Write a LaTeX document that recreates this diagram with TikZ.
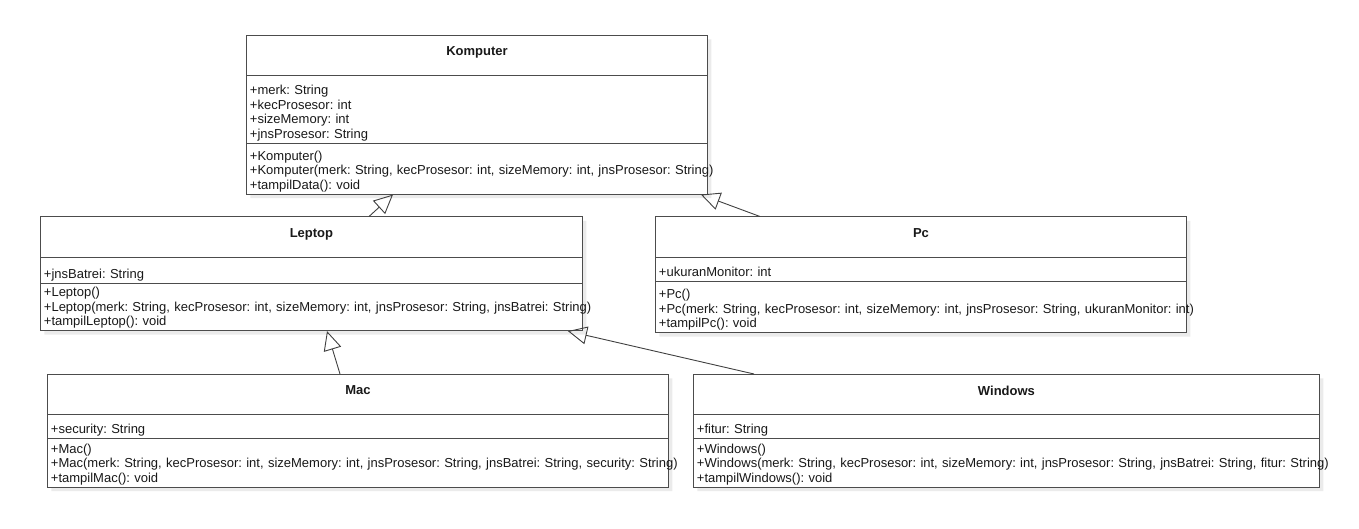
\documentclass[tikz,border=0pt]{standalone}
\usepackage{fontspec}
\setmainfont{Liberation Sans}
\usetikzlibrary{shapes.multipart,arrows.meta,shadows}

\frenchspacing
\newcommand{\umltitle}[2]{\vbox to #1{\vskip 11pt\hbox to\hsize{\hfil\textbf{#2}\hfil}\vfill}}
\newcommand{\umlpart}[2]{\vbox to #1{\vfill #2\kern0pt}}
\newcommand{\umlline}[1]{\hbox{\strut #1}}

\tikzset{
  umlclass/.style={rectangle split, rectangle split parts=3, anchor=north west,
    draw=black!70, line width=0.9pt, fill=white, inner xsep=3.5pt, inner ysep=0pt,
    font=\fontsize{13}{14.5}\selectfont\frenchspacing, text=black!90,
    drop shadow={shadow xshift=4pt, shadow yshift=-4pt, fill=black!8, opacity=1}},
  inherits/.style={draw=black!75, line width=0.9pt, -{Triangle[open, length=19pt, width=18pt]}}
}

\begin{document}
\begin{tikzpicture}[x=1pt,y=-1pt]
  \useasboundingbox (0,0) rectangle (1359,529);

  \node[umlclass, text width=454pt] (komp) at (246,35) {%
    \umltitle{39pt}{Komputer}%
    \nodepart{two}\umlpart{67pt}{%
      \umlline{+merk: String}%
      \umlline{+kecProsesor: int}%
      \umlline{+sizeMemory: int}%
      \umlline{+jnsProsesor: String}}%
    \nodepart{three}\umlpart{50pt}{%
      \umlline{+Komputer()}%
      \umlline{+Komputer(merk: String, kecProsesor: int, sizeMemory: int, jnsProsesor: String)}%
      \umlline{+tampilData(): void}}};

  \node[umlclass, text width=535pt] (lep) at (40,216.5) {%
    \umltitle{40pt}{Leptop}%
    \nodepart{two}\umlpart{25pt}{%
      \umlline{+jnsBatrei: String}}%
    \nodepart{three}\umlpart{46pt}{%
      \umlline{+Leptop()}%
      \umlline{+Leptop(merk: String, kecProsesor: int, sizeMemory: int, jnsProsesor: String, jnsBatrei: String)}%
      \umlline{+tampilLeptop(): void}}};

  \node[umlclass, text width=524pt] (pc) at (655,216.5) {%
    \umltitle{40pt}{Pc}%
    \nodepart{two}\umlpart{23pt}{%
      \umlline{+ukuranMonitor: int}}%
    \nodepart{three}\umlpart{50pt}{%
      \umlline{+Pc()}%
      \umlline{+Pc(merk: String, kecProsesor: int, sizeMemory: int, jnsProsesor: String, ukuranMonitor: int)}%
      \umlline{+tampilPc(): void}}};

  \node[umlclass, text width=614pt] (mac) at (47,374) {%
    \umltitle{39pt}{Mac}%
    \nodepart{two}\umlpart{23pt}{%
      \umlline{+security: String}}%
    \nodepart{three}\umlpart{48pt}{%
      \umlline{+Mac()}%
      \umlline{+Mac(merk: String, kecProsesor: int, sizeMemory: int, jnsProsesor: String, jnsBatrei: String, security: String)}%
      \umlline{+tampilMac(): void}}};

  \node[umlclass, text width=619pt] (win) at (693,374) {%
    \umltitle{39pt}{Windows}%
    \nodepart{two}\umlpart{23pt}{%
      \umlline{+fitur: String}}%
    \nodepart{three}\umlpart{48pt}{%
      \umlline{+Windows()}%
      \umlline{+Windows(merk: String, kecProsesor: int, sizeMemory: int, jnsProsesor: String, jnsBatrei: String, fitur: String)}%
      \umlline{+tampilWindows(): void}}};

  \draw[inherits] ([xshift=329pt]lep.north west) -- ([xshift=147pt]komp.south west);
  \draw[inherits] ([xshift=105pt]pc.north west) -- ([xshift=-7pt]komp.south east);
  \draw[inherits] ([xshift=293pt]mac.north west) -- ([xshift=287pt]lep.south west);
  \draw[inherits] ([xshift=61pt]win.north west) -- ([xshift=-15pt]lep.south east);
\end{tikzpicture}
\end{document}
